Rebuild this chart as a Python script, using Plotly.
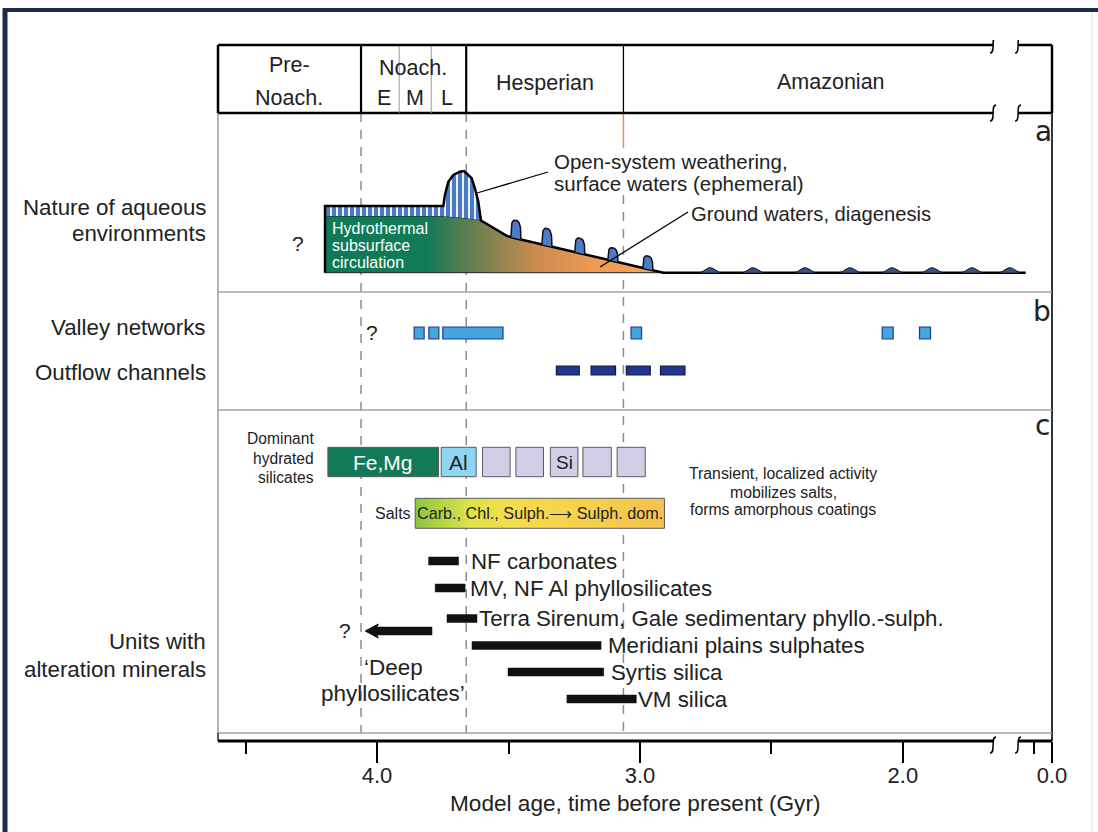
import numpy as np
import plotly.graph_objects as go

FONT = "Liberation Sans, Arial, sans-serif"
TXT = "#222222"

# ===================== DATA (ages in Gyr on the model-age axis) =====================
PERIOD_BOUNDS = [4.061, 3.661, 3.063]      # Pre-Noach./Noach., Noach./Hesperian, Hesperian/Amazonian
NOACH_SUB_BOUNDS = [3.916, 3.794]          # E/M, M/L
AXIS_LEFT, AXIS_RIGHT = 4.605, 1.433       # drawn extent of the time axis
BREAK_AGES = [1.657, 1.562]                # axis break
MAJOR_TICKS = [4.0, 3.0, 2.0, 1.433]
MAJOR_LABELS = ["4.0", "3.0", "2.0", "0.0"]
MINOR_TICKS = [4.5, 3.5, 2.5, 1.5]

# (a) nature of aqueous environments (relative activity, arbitrary units)
SUBSURF_AGE = [4.198, 3.760, 3.684, 3.608, 3.558, 3.505, 3.482, 2.911]
SUBSURF_LEVEL = [56.7, 56.7, 55.2, 52.7, 44.7, 36.7, 35.0, 0.0]
SURFACE_LEVEL = 66.7
WEATHER_AGE = [3.748, 3.742, 3.729, 3.710, 3.685, 3.669, 3.640, 3.628, 3.615, 3.605]
WEATHER_LEVEL = [66.7, 77.7, 91.0, 97.7, 101.0, 101.7, 94.4, 84.4, 71.0, 52.5]
PULSE_AGE = [3.472, 3.354, 3.229, 3.103, 2.970]
PULSE_HEIGHT = [18, 17, 15, 13, 13]
RIPPLE_AGE = [2.734, 2.571, 2.373, 2.202, 2.042, 1.890, 1.738, 1.594]
RIPPLE_HEIGHT = [5, 5, 5, 5, 5, 5, 5, 5]
ACTIVITY_END = 1.533

# (b) valley networks / outflow channels
VALLEY_START = [3.859, 3.803, 3.750, 3.034, 2.079, 1.937]
VALLEY_END = [3.821, 3.765, 3.521, 2.994, 2.037, 1.895]
OUTFLOW_START = [3.318, 3.186, 3.052, 2.922]
OUTFLOW_END = [3.231, 3.093, 2.961, 2.829]

# (c) alteration minerals
SILICATE_NAMES = ["Fe,Mg", "Al", "", "", "Si", "", ""]
SILICATE_START = [4.187, 3.756, 3.599, 3.472, 3.341, 3.217, 3.087]
SILICATE_END = [3.766, 3.623, 3.494, 3.367, 3.236, 3.109, 2.980]
SALTS_START, SALTS_END = 3.855, 2.907
UNIT_NAMES = ["NF carbonates", "MV, NF Al phyllosilicates",
              "Terra Sirenum, Gale sedimentary phyllo.-sulph.",
              "Meridiani plains sulphates", "Syrtis silica", "VM silica"]
UNIT_START = [3.804, 3.779, 3.734, 3.639, 3.502, 3.278]
UNIT_END = [3.690, 3.665, 3.620, 3.148, 3.138, 3.014]
DEEP_START, DEEP_END = 3.791, 4.045

# ===================== LAYOUT GEOMETRY =====================
W, H = 1098, 832
PL, PR, PT, PB = 214, 1056, 40, 741          # plot area (page px)
PXG = (1052 - 218) / (AXIS_LEFT - AXIS_RIGHT)  # px per Gyr
AGE_L = AXIS_LEFT + (218 - PL) / PXG
AGE_R = AXIS_RIGHT - (PR - 1052) / PXG


def X(px):
    return AGE_L - (px - PL) / PXG


def Y(py):
    return PB - py


def PX(px):
    return (px - PL) / (PR - PL)


def PY(py):
    return (PB - py) / (PB - PT)


# row / level positions (y-axis units)
A_BASE = Y(272.7)
ROW_VALLEY, ROW_OUTFLOW = Y(333), Y(370.5)
ROW_SIL, ROW_SALT = Y(462), Y(513.3)
UNIT_ROWS = [Y(561), Y(588), Y(618.5), Y(645.5), Y(672), Y(699)]
ROW_DEEP = Y(631)
UNIT_LABEL_GAP = [12, 5, 2, 7, 7, 2]

fig = go.Figure()
shapes, ann = [], []


def seg(x0, y0, x1, y1, color="black", width=1.0, dash=None, layer="above", yref="y"):
    d = dict(type="line", xref="x", yref=yref, x0=x0, y0=y0, x1=x1, y1=y1,
             line=dict(color=color, width=width), layer=layer)
    if dash:
        d["line"]["dash"] = dash
    shapes.append(d)


def rect(a0, a1, yc, h, fill, lc, lw):
    shapes.append(dict(type="rect", xref="x", yref="y", x0=a0, x1=a1, y0=yc - h / 2, y1=yc + h / 2,
                       fillcolor=fill, line=dict(color=lc, width=lw), layer="above"))


def brk(age, yc, yref="y", scale=1.0):
    s = scale
    p = (f"M{age + 3 / PXG},{yc - 8 * s} C{age - 3 / PXG},{yc - 8 * s} "
         f"{age + 3 / PXG},{yc + 8 * s} {age - 3 / PXG},{yc + 8 * s}")
    shapes.append(dict(type="path", xref="x", yref=yref, path=p,
                       line=dict(color="black", width=1.5), layer="above"))


def txt(text, px, py, size, anchor="center", color=TXT, family=FONT):
    ann.append(dict(x=PX(px), y=PY(py), xref="paper", yref="paper", text=text, showarrow=False,
                    xanchor=anchor, yanchor="middle", font=dict(size=size, color=color, family=family)))


# ----- page frame -----
shapes.append(dict(type="line", xref="paper", yref="paper", x0=PX(3), x1=PX(1098), y0=PY(10), y1=PY(10),
                   line=dict(color="#1c2d4c", width=4)))
shapes.append(dict(type="line", xref="paper", yref="paper", x0=PX(5), x1=PX(5), y0=PY(8), y1=PY(832),
                   line=dict(color="#1c2d4c", width=5)))
shapes.append(dict(type="line", xref="paper", yref="paper", x0=PX(1092), x1=PX(1092), y0=PY(12), y1=PY(832),
                   line=dict(color="#dddddd", width=1)))

# ----- dashed period boundaries -----
for i, b in enumerate(PERIOD_BOUNDS):
    y_top = Y(195) if i == 2 else Y(113)
    seg(b, y_top, b, Y(733), color="#8c8c8c", width=1.5, dash="9px,8px", layer="below")
seg(PERIOD_BOUNDS[2], Y(113), PERIOD_BOUNDS[2], Y(148), color="#ee8a60", width=1.5)

# ----- header box -----
for yy in (Y(45), Y(113)):
    seg(AXIS_LEFT, yy, BREAK_AGES[0], yy, width=2.5)
    seg(BREAK_AGES[1], yy, AXIS_RIGHT, yy, width=2.5)
    brk(BREAK_AGES[0], yy)
    brk(BREAK_AGES[1], yy)
seg(AXIS_LEFT, Y(45), AXIS_LEFT, Y(113), width=2.5)
seg(AXIS_LEFT, Y(113), AXIS_LEFT, Y(733), color="#8a8a8a", width=1.3)
seg(AXIS_RIGHT, Y(45), AXIS_RIGHT, Y(113), width=2.5)
seg(AXIS_RIGHT, Y(113), AXIS_RIGHT, 0, color="#333333", width=2)
for i, b in enumerate(PERIOD_BOUNDS):
    seg(b, Y(45), b, Y(113), width=1.3 if i == 2 else 2.2)
for b in NOACH_SUB_BOUNDS:
    seg(b, Y(46), b, Y(113), color="#9a9a9a", width=1)

# panel separators and bottom frame
for py in (292, 410, 733):
    seg(AXIS_LEFT, Y(py), AXIS_RIGHT, Y(py), color="#a3a3a3", width=1.3)
seg(AXIS_LEFT, Y(733), AXIS_LEFT, 0, width=1.3)
seg(AXIS_LEFT, 0, BREAK_AGES[0], 0, width=2.8, yref="paper")
seg(BREAK_AGES[1], 0, AXIS_RIGHT, 0, width=2.8, yref="paper")
for b in BREAK_AGES:
    brk(b, PY(745), yref="paper", scale=1 / (PB - PT))

# ----- header text -----
HS = 21.5
txt("Pre-", 289, 65, HS); txt("Noach.", 289, 98, HS)
txt("Noach.", 413, 68, HS)
for lab, px in zip(["E", "M", "L"], [384, 415, 447]):
    txt(lab, px, 98, HS)
txt("Hesperian", 545, 83, HS)
txt("Amazonian", 831, 82, HS)

# ===================== PANEL a =====================
base_x = SUBSURF_AGE[::-1]
base_y = SUBSURF_LEVEL[::-1]


def slope_level(a):
    return np.interp(a, base_x, base_y)


# subsurface circulation body
bx = SUBSURF_AGE + [SUBSURF_AGE[-1], SUBSURF_AGE[0], SUBSURF_AGE[0]]
by = [A_BASE + v for v in SUBSURF_LEVEL] + [A_BASE, A_BASE, A_BASE + SUBSURF_LEVEL[0]]
fig.add_trace(go.Scatter(
    x=bx, y=by, mode="lines", fill="toself", line=dict(color="#222222", width=1),
    fillgradient=dict(type="horizontal", start=SUBSURF_AGE[0], stop=SUBSURF_AGE[-1],
                      colorscale=[[0, "#0f7a57"], [0.30, "#127a57"], [0.45, "#6f7f50"],
                                  [0.62, "#c98b4e"], [0.8, "#ef9b54"], [1, "#f6a45c"]]),
    hoverinfo="skip"))

# surface waters (striped) + weathering peak
sx = [SUBSURF_AGE[0], SUBSURF_AGE[0]] + WEATHER_AGE + [3.608, 3.684, 3.760, SUBSURF_AGE[0]]
sy = [A_BASE + SUBSURF_LEVEL[0], A_BASE + SURFACE_LEVEL] + [A_BASE + v for v in WEATHER_LEVEL] + \
     [A_BASE + 52.7, A_BASE + 55.2, A_BASE + 56.7, A_BASE + 56.7]
fig.add_trace(go.Scatter(
    x=sx, y=sy, mode="lines", fill="toself", line=dict(width=0, color="rgba(0,0,0,0)"),
    fillpattern=dict(shape="|", fillmode="replace", bgcolor="#4b7bc8", fgcolor="white", size=6, solidity=0.3),
    hoverinfo="skip"))
fig.add_trace(go.Scatter(
    x=[SUBSURF_AGE[0], SUBSURF_AGE[0]] + WEATHER_AGE,
    y=[A_BASE, A_BASE + SURFACE_LEVEL] + [A_BASE + v for v in WEATHER_LEVEL],
    mode="lines", line=dict(color="black", width=2.5), hoverinfo="skip"))
# top edge of body and baseline
fig.add_trace(go.Scatter(
    x=SUBSURF_AGE[3:] + [ACTIVITY_END], y=[A_BASE + v for v in SUBSURF_LEVEL[3:]] + [A_BASE],
    mode="lines", line=dict(color="black", width=2.5), hoverinfo="skip"))

# surface-water pulses on the slope
for a, h in zip(PULSE_AGE, PULSE_HEIGHT):
    t = np.linspace(-1, 1, 31)
    xs = a - t * 5 / PXG
    prof = (1 - np.abs(t) ** 3) ** (1 / 3)
    ys = A_BASE + slope_level(xs) + h * prof
    fig.add_trace(go.Scatter(x=xs, y=ys, mode="lines", fill="toself", fillcolor="#4a7cc8",
                             line=dict(color="#111111", width=1.5), hoverinfo="skip"))

# Amazonian ripples
for a, h in zip(RIPPLE_AGE, RIPPLE_HEIGHT):
    t = np.linspace(-1, 1, 31)
    xs = a - t * 10 / PXG
    ys = A_BASE + h * (0.5 * (1 + np.cos(np.pi * t))) ** 0.8
    fig.add_trace(go.Scatter(x=xs, y=ys, mode="lines", fill="toself", fillcolor="#3a4f8e",
                             line=dict(color="#111111", width=1), hoverinfo="skip"))

seg(X(477), Y(193), X(548), Y(172), width=1.3)
seg(X(688), Y(212), X(600), Y(267), width=1.3)

txt("?", 298, 243, 21)
txt("Hydrothermal", 330, 229, 16, "left", "white")
txt("subsurface", 330, 245.5, 16, "left", "white")
txt("circulation", 330, 262, 16, "left", "white")
txt("Open-system weathering,", 552, 162, 20.5, "left")
txt("surface waters (ephemeral)", 552, 183, 20.5, "left")
txt("Ground waters, diagenesis", 689, 214, 20.2, "left")

# ===================== PANEL b =====================
for a0, a1 in zip(VALLEY_START, VALLEY_END):
    rect(a0, a1, ROW_VALLEY, 12, "#45a5df", "#1b3f8e", 1.2)
for a0, a1 in zip(OUTFLOW_START, OUTFLOW_END):
    rect(a0, a1, ROW_OUTFLOW, 9, "#21358d", "#0c1a4c", 1.2)
txt("?", 372, 332, 21)

# ===================== PANEL c =====================
sil_fill = ["#127a58", "#8ed5f2", "#d3cde8", "#d3cde8", "#d3cde8", "#d3cde8", "#d3cde8"]
for a0, a1, fc, name in zip(SILICATE_START, SILICATE_END, sil_fill, SILICATE_NAMES):
    rect(a0, a1, ROW_SIL, 29.4, fc, "#5a5a5a", 1)
    if name:
        ann.append(dict(x=(a0 + a1) / 2, y=ROW_SIL, xref="x", yref="y", text=name, showarrow=False,
                        font=dict(size=21 if name != "Si" else 19,
                                  color="white" if name == "Fe,Mg" else TXT, family=FONT)))

fig.add_trace(go.Scatter(
    x=[SALTS_START, SALTS_END, SALTS_END, SALTS_START, SALTS_START],
    y=[ROW_SALT - 15, ROW_SALT - 15, ROW_SALT + 15, ROW_SALT + 15, ROW_SALT - 15],
    mode="lines", fill="toself", line=dict(color="#5a5a5a", width=1),
    fillgradient=dict(type="horizontal", start=SALTS_START, stop=SALTS_END,
                      colorscale=[[0, "#8cc63f"], [0.22, "#dfe24a"], [0.4, "#f6dc4a"], [1, "#f5c24e"]]),
    hoverinfo="skip"))
ann.append(dict(x=(SALTS_START + SALTS_END) / 2, y=ROW_SALT, xref="x", yref="y",
                text="Carb., Chl., Sulph.\u27f6 Sulph. dom.", showarrow=False,
                font=dict(size=16.2, color=TXT, family=FONT)))

for name, a0, a1, yr, gap in zip(UNIT_NAMES, UNIT_START, UNIT_END, UNIT_ROWS, UNIT_LABEL_GAP):
    rect(a0, a1, yr, 8, "#111111", "#111111", 0.5)
    ann.append(dict(x=a1, y=yr, xref="x", yref="y", text=name, showarrow=False, xanchor="left",
                    xshift=gap - 2, font=dict(size=22.3, color=TXT, family=FONT)))

# deep phyllosilicates arrow
tip = DEEP_END
rect(DEEP_START, tip - 10 / PXG, ROW_DEEP, 8, "#111111", "#111111", 0.5)
shapes.append(dict(type="path", xref="x", yref="y", layer="above",
                   path=(f"M{tip},{ROW_DEEP} L{tip - 13 / PXG},{ROW_DEEP + 7} "
                         f"L{tip - 10 / PXG},{ROW_DEEP} L{tip - 13 / PXG},{ROW_DEEP - 7} Z"),
                   fillcolor="#111111", line=dict(color="#111111", width=1)))

txt("Dominant", 316, 438, 15.6, "right")
txt("hydrated", 316, 458, 15.6, "right")
txt("silicates", 316, 477, 15.6, "right")
txt("Salts", 413, 513, 16, "right")
txt("Transient, localized activity", 783, 473, 15.8)
txt("mobilizes salts,", 783, 492, 15.8)
txt("forms amorphous coatings", 783, 510, 15.8)
txt("?", 345, 630, 21)
txt("\u2018Deep", 393, 667, 22.5)
txt("phyllosilicates\u2019", 393, 693, 22.5)

# ----- left labels -----
for s, py in [("Nature of aqueous", 207), ("environments", 233), ("Valley networks", 327),
              ("Outflow channels", 372), ("Units with", 641), ("alteration minerals", 669)]:
    txt(s, 208, py, 22.3, "right")

# panel letters
for s, px, py in [("a", 1043, 131), ("b", 1042, 311), ("c", 1042, 425)]:
    txt(s, px, py, 28, "center", "#222222", "DejaVu Sans, sans-serif")

# axis title
txt("Model age, time before present (Gyr)", 635, 803, 22.6)

fig.update_layout(
    width=W, height=H, margin=dict(l=PL, r=W - PR, t=PT, b=H - PB),
    paper_bgcolor="white", plot_bgcolor="white", showlegend=False,
    shapes=shapes, annotations=ann,
    xaxis=dict(range=[AGE_L, AGE_R], showgrid=False, zeroline=False, showline=False,
               tickmode="array", tickvals=MAJOR_TICKS, ticktext=MAJOR_LABELS,
               ticks="outside", ticklen=21, tickwidth=1.5, tickcolor="black",
               ticklabelstandoff=-6,
               tickfont=dict(size=22, color=TXT, family=FONT),
               minor=dict(tickmode="array", tickvals=MINOR_TICKS, ticks="outside",
                          ticklen=12, tickwidth=1.5, tickcolor="black")),
    yaxis=dict(range=[0, PB - PT], visible=False, showgrid=False, zeroline=False),
)

fig.write_html("out.html", config={"displayModeBar": False},
               post_script="document.body.style.margin='0px';document.body.style.overflow='hidden';")
